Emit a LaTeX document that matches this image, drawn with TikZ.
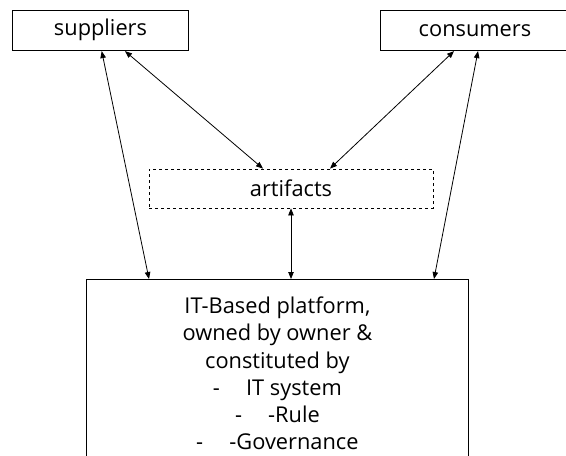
\documentclass[tikz,border=0pt]{standalone}
\usepackage{fontspec}
\setmainfont{Open Sans}
\usetikzlibrary{arrows.meta}

\begin{document}
\begin{tikzpicture}[x=1pt, y=-1pt,
        every node/.style={font=\fontsize{21.8}{27.3}\selectfont},
        actorbox/.style={draw, line width=0.9pt, minimum height=40.7pt, inner sep=0pt},
        link/.style={line width=0.8pt, {Triangle[length=7pt,width=5.5pt]}-{Triangle[length=7pt,width=5.5pt]}}]
        \useasboundingbox (0,0) rectangle (566,456);
        \clip (0,0) rectangle (566,456);

        % Boxes for the two market sides
        \node[actorbox, minimum width=176pt] (sup) at (100.5,30.3) {suppliers};
        \node[actorbox, minimum width=190pt] (con) at (475,30.3) {consumers};

        % Dashed box in the middle
        \node[draw, dashed, line width=0.8pt, minimum width=284pt, minimum height=39pt, inner sep=0pt]
            (art) at (291,188.5) {artifacts};

        % Platform box, cut off by the lower edge
        \node[draw, line width=0.9pt, anchor=north, minimum width=381.3pt, minimum height=188pt,
            align=center, inner sep=0pt] (plat) at (277.4,279) {
        IT-Based platform,\\
        owned by owner \&\\
        constituted by\\
        -\hspace{1.2em}IT system\\
        -\hspace{1.2em}-Rule\\
        -\hspace{1.2em}-Governance
        };

        % Arrows
        \draw[link] ([xshift=1.2pt]sup.south) -- ([xshift=-128.4pt]plat.north);
        \draw[link] ([xshift=24.5pt]sup.south) -- ([xshift=-28pt]art.north);
        \draw[link] ([xshift=-21pt]con.south) -- ([xshift=39pt]art.north);
        \draw[link] ([xshift=3pt]con.south) -- ([xshift=156.6pt]plat.north);
        \draw[link] (art.south) -- ([xshift=13.6pt]plat.north);
    \end{tikzpicture}
\end{document}
